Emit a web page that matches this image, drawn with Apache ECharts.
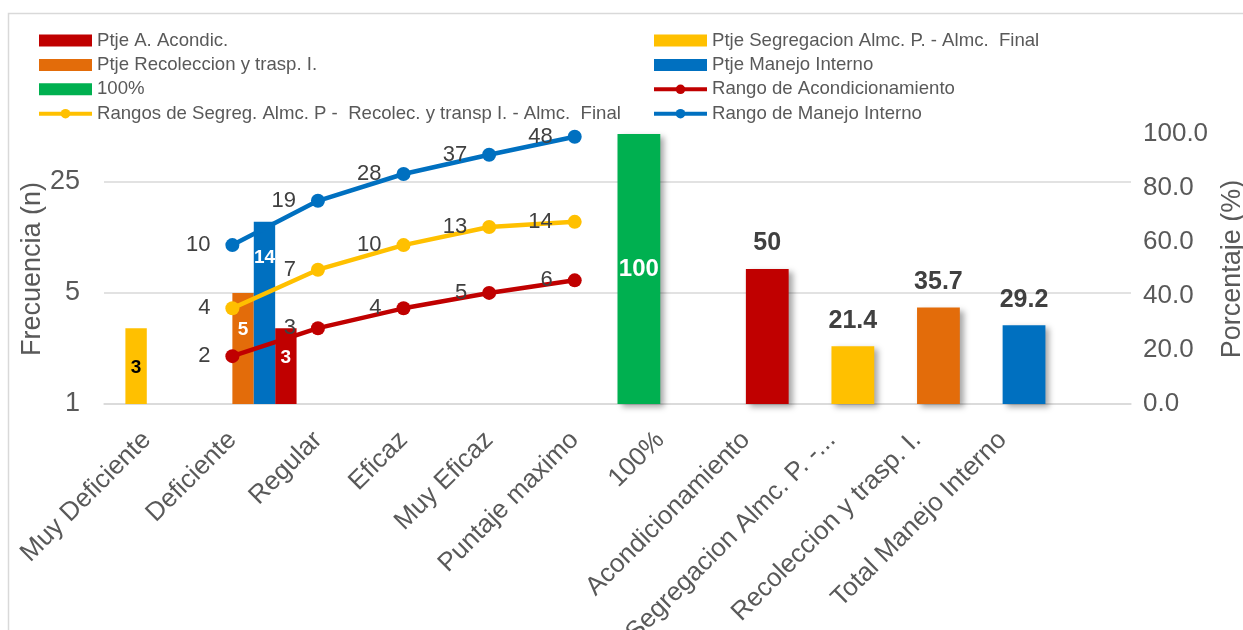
<!DOCTYPE html>
<html>
<head>
<meta charset="utf-8">
<script src="https://cdn.jsdelivr.net/npm/echarts@6/dist/echarts.min.js"></script>
<style>
html,body{margin:0;padding:0;background:#fff;}
#chart{width:1243px;height:630px;}
</style>
</head>
<body>
<div id="chart"></div>
<script>
const categories = ['Muy Deficiente','Deficiente','Regular','Eficaz','Muy Eficaz','Puntaje maximo','100%','Acondicionamiento','Segregacion Almc. P. -...','Recoleccion y trasp. I.','Total Manejo Interno',''];

// Frequency bars (left, log axis)
const ptjeAcond   = [null, null, 3, null, null, null, null, null, null, null, null, null];
const ptjeSegreg  = [3, null, null, null, null, null, null, null, null, null, null, null];
const ptjeRecol   = [null, 5, null, null, null, null, null, null, null, null, null, null];
const ptjeManejo  = [null, 14, null, null, null, null, null, null, null, null, null, null];

// Percentage bars (right axis)
const pct100      = [null, null, null, null, null, null, 100, null, null, null, null, null];
const pctValues   = [null, null, null, null, null, null, null, 50, 21.4, 35.7, 29.2, null];

// Range lines (left, log axis)
const rangoAcond  = [null, 2, 3, 4, 5, 6, null, null, null, null, null, null];
const rangoSegreg = [null, 4, 7, 10, 13, 14, null, null, null, null, null, null];
const rangoManejo = [null, 10, 19, 28, 37, 48, null, null, null, null, null, null];

const leftMax = 50;
const rightMax = 100;

const C_RED = '#C00000', C_YEL = '#FFC000', C_ORA = '#E36C0A', C_BLU = '#0070C0', C_GRN = '#00B050';
const pctColors = [null, null, null, null, null, null, null, C_RED, C_YEL, C_ORA, C_BLU, null];

const FONT = "'Liberation Sans', Arial, sans-serif";
const TXT = '#595959';
const LBL = '#404040';

const chart = echarts.init(document.getElementById('chart'), null, {renderer: 'canvas'});

function lineSeries(name, data, color) {
  return {
    name: name, type: 'line', xAxisIndex: 0, yAxisIndex: 0, data: data,
    symbol: 'circle', symbolSize: 14, z: 5,
    lineStyle: {color: color, width: 4.5},
    itemStyle: {color: color},
    label: {show: true, position: 'left', distance: 15, fontSize: 22, color: LBL, fontFamily: FONT},
    connectNulls: false
  };
}

function freqBar(name, data, color, labelColor, dist) {
  return {
    name: name, type: 'bar', xAxisIndex: 0, yAxisIndex: 0, data: data,
    barWidth: '25%', barGap: '0%', z: 2,
    itemStyle: {color: color},
    label: {show: true, position: 'insideTop', distance: dist, fontSize: 19, fontWeight: 'bold', color: labelColor, fontFamily: FONT}
  };
}

const shadow = {shadowColor: 'rgba(0,0,0,0.35)', shadowBlur: 6, shadowOffsetX: 4, shadowOffsetY: 3};

const legendCommon = {
  orient: 'vertical', top: 26, itemGap: 5.4, itemWidth: 53, itemHeight: 12,
  lineStyle: {width: 4},
  textStyle: {fontSize: 18.6, lineHeight: 18.6, color: TXT, fontFamily: FONT}
};

const option = {
  animation: false,
  textStyle: {fontFamily: FONT},
  graphic: [{
    type: 'rect', shape: {x: 8.5, y: 13.5, width: 1400, height: 800},
    style: {fill: 'none', stroke: '#d9d9d9', lineWidth: 1.5}, silent: true, z: -10
  }],
  legend: [Object.assign({}, legendCommon, {
    left: 32,
    data: [
      {name: 'Ptje A. Acondic.', icon: 'rect'},
      {name: 'Ptje Recoleccion y trasp. I.', icon: 'rect'},
      {name: '100%', icon: 'rect'},
      'Rangos de Segreg. Almc. P -  Recolec. y transp I. - Almc.  Final'
    ]
  }), Object.assign({}, legendCommon, {
    left: 647,
    data: [
      {name: 'Ptje Segregacion Almc. P. - Almc.  Final', icon: 'rect'},
      {name: 'Ptje Manejo Interno', icon: 'rect'},
      'Rango de Acondicionamiento',
      'Rango de Manejo Interno'
    ]
  })],
  grid: {left: 104, right: 112, top: 134, bottom: 226, containLabel: false, outerBoundsMode: 'none'},
  xAxis: [{
    type: 'category', data: categories, boundaryGap: true,
    axisLine: {lineStyle: {color: '#d9d9d9', width: 1.5}},
    axisTick: {alignWithLabel: true, length: 6, lineStyle: {color: '#d9d9d9', width: 1.5}},
    axisLabel: {interval: 0, rotate: 45, margin: 32, fontSize: 26, color: TXT, fontFamily: FONT},
    splitLine: {show: false}
  }, {
    type: 'category', data: categories, boundaryGap: true, show: false
  }],
  yAxis: [{
    type: 'log', logBase: 5, min: 1, max: leftMax, position: 'left',
    name: 'Frecuencia (n)', nameLocation: 'middle', nameRotate: 90, nameGap: 58, nameMoveOverlap: false,
    nameTextStyle: {fontSize: 27, color: TXT, fontFamily: FONT},
    axisLine: {show: false}, axisTick: {show: false},
    axisLabel: {fontSize: 27, color: TXT, margin: 24, showMaxLabel: false, fontFamily: FONT},
    splitLine: {show: true, showMaxLine: false, lineStyle: {color: '#d9d9d9', width: 1.5}}
  }, {
    type: 'value', min: 0, max: rightMax, interval: 20, position: 'right',
    name: 'Porcentaje (%)', nameLocation: 'middle', nameRotate: 90, nameGap: 88,
    nameTextStyle: {fontSize: 27, color: TXT, fontFamily: FONT},
    axisLine: {show: false}, axisTick: {show: false},
    axisLabel: {fontSize: 26, color: TXT, margin: 12, fontFamily: FONT, formatter: v => v.toFixed(1)},
    splitLine: {show: false}
  }],
  series: [
    freqBar('Ptje A. Acondic.', ptjeAcond, C_RED, '#ffffff', 20),
    freqBar('Ptje Segregacion Almc. P. - Almc.  Final', ptjeSegreg, C_YEL, '#000000', 30),
    freqBar('Ptje Recoleccion y trasp. I.', ptjeRecol, C_ORA, '#ffffff', 27),
    freqBar('Ptje Manejo Interno', ptjeManejo, C_BLU, '#ffffff', 26),
    {
      name: '100%', type: 'bar', xAxisIndex: 1, yAxisIndex: 1, data: pct100,
      barWidth: '50%', barGap: '0%', z: 2,
      itemStyle: Object.assign({color: C_GRN}, shadow),
      label: {show: true, position: 'inside', fontSize: 24, fontWeight: 'bold', color: '#ffffff', fontFamily: FONT}
    },
    {
      name: 'Porcentaje', type: 'bar', xAxisIndex: 1, yAxisIndex: 1, data: pctValues,
      barWidth: '50%', barGap: '0%', z: 2,
      itemStyle: Object.assign({color: p => pctColors[p.dataIndex] || C_BLU}, shadow),
      label: {show: true, position: 'top', distance: 13, fontSize: 25, fontWeight: 'bold', color: LBL, fontFamily: FONT}
    },
    lineSeries('Rango de Acondicionamiento', rangoAcond, C_RED),
    lineSeries('Rangos de Segreg. Almc. P -  Recolec. y transp I. - Almc.  Final', rangoSegreg, C_YEL),
    lineSeries('Rango de Manejo Interno', rangoManejo, C_BLU)
  ]
};
chart.setOption(option);
</script>
</body>
</html>
